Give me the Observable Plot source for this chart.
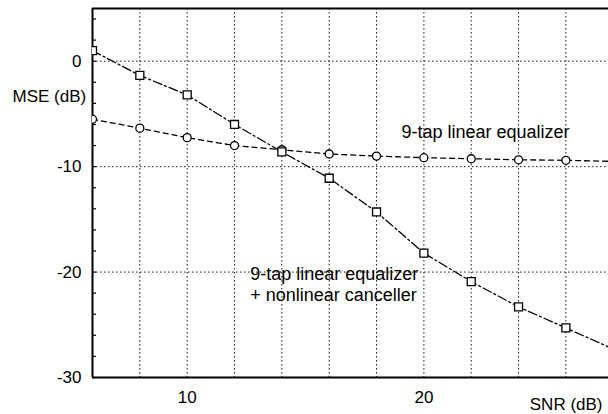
<!DOCTYPE html>
<html>
<head>
<meta charset="utf-8">
<script src="https://cdn.jsdelivr.net/npm/d3@7"></script>
<script src="https://cdn.jsdelivr.net/npm/@observablehq/plot@0.6"></script>
<style>
  html, body { margin: 0; padding: 0; background: #fff; }
  svg { display: block; }
</style>
</head>
<body>
<div id="chart"></div>
<script>
// SNR values (dB)
const snr = [6, 8, 10, 12, 14, 16, 18, 20, 22, 24, 26, 28];
// MSE (dB) of the 9-tap linear equalizer
const mseLinear = [-5.5, -6.35, -7.25, -8.0, -8.4, -8.8, -9.0, -9.15, -9.25, -9.35, -9.4, -9.5];
// MSE (dB) of the 9-tap linear equalizer + nonlinear canceller
const mseNonlinear = [1.0, -1.35, -3.2, -6.0, -8.6, -11.1, -14.3, -18.2, -20.9, -23.3, -25.3, -27.3];
// tick labels
const xTicks = [10, 20];
const yTicks = [0, -10, -20, -30];
const xGrid = [8, 10, 12, 14, 16, 18, 20, 22, 24, 26];
const yGrid = [-20, -10, 0];
const yMinor = d3.range(-30, 6, 2);

const linear = snr.map((s, i) => ({snr: s, mse: mseLinear[i]}));
const nonlinear = snr.map((s, i) => ({snr: s, mse: mseNonlinear[i]}));

const chart = Plot.plot({
  width: 608,
  height: 414,
  marginLeft: 92,
  marginRight: 0,
  marginTop: 8,
  marginBottom: 37,
  style: {fontFamily: "'Liberation Sans', Arial, Helvetica, sans-serif", fontSize: "17px", color: "#000", background: "#fff"},
  x: {domain: [6, 27.8]},
  y: {domain: [-30, 5]},
  marks: [
    Plot.ruleX(xGrid, {stroke: "#000", strokeDasharray: "1.5,2.5", strokeWidth: 1, strokeOpacity: 0.9}),
    Plot.ruleY(yGrid, {stroke: "#000", strokeDasharray: "1.5,2.5", strokeWidth: 1, strokeOpacity: 0.9}),
    Plot.axisY(yMinor, {anchor: "left", tickSize: -4, tickFormat: () => "", label: null, strokeWidth: 1.2}),
    Plot.axisY(yTicks, {anchor: "left", tickSize: 0, tickPadding: 11, fontSize: 17, label: null, tickFormat: d => String(d)}),
    Plot.axisX(xTicks, {anchor: "bottom", tickSize: 0, tickPadding: 13, fontSize: 17, label: null, tickFormat: d => String(d)}),
    Plot.ruleX([6], {stroke: "#000", strokeWidth: 2}),
    Plot.ruleY([-30], {stroke: "#000", strokeWidth: 2}),
    Plot.ruleY([5], {stroke: "#000", strokeWidth: 2}),
    Plot.line(linear, {x: "snr", y: "mse", stroke: "#000", strokeWidth: 1.3, strokeDasharray: "5,4", clip: true}),
    Plot.line(nonlinear, {x: "snr", y: "mse", stroke: "#000", strokeWidth: 1.3, strokeDasharray: "9,3,2,3", clip: true}),
    Plot.dot(linear, {x: "snr", y: "mse", r: 4, stroke: "#000", strokeWidth: 1.3, fill: "#fff", clip: true}),
    Plot.dot(nonlinear, {x: "snr", y: "mse", r: 4.5, symbol: "square", stroke: "#000", strokeWidth: 1.3, fill: "#fff", clip: true}),
    Plot.text(["9-tap linear equalizer"], {x: 19.05, y: -7.24, text: d => d, textAnchor: "start", lineAnchor: "bottom", fontSize: 18}),
    Plot.text(["9-tap linear equalizer\n+ nonlinear canceller"], {x: 12.66, y: -22.7, text: d => d, textAnchor: "start", lineAnchor: "bottom", lineHeight: 1.12, fontSize: 18}),
    Plot.text(["MSE (dB)"], {frameAnchor: "top-left", dx: -80, dy: 88.5, text: d => d, textAnchor: "start", lineAnchor: "middle", fontSize: 17}),
    Plot.text(["SNR (dB)"], {frameAnchor: "bottom-right", dx: -6, dy: 27.5, text: d => d, textAnchor: "end", lineAnchor: "middle", fontSize: 17})
  ]
});
document.getElementById("chart").appendChild(chart);
</script>
</body>
</html>
